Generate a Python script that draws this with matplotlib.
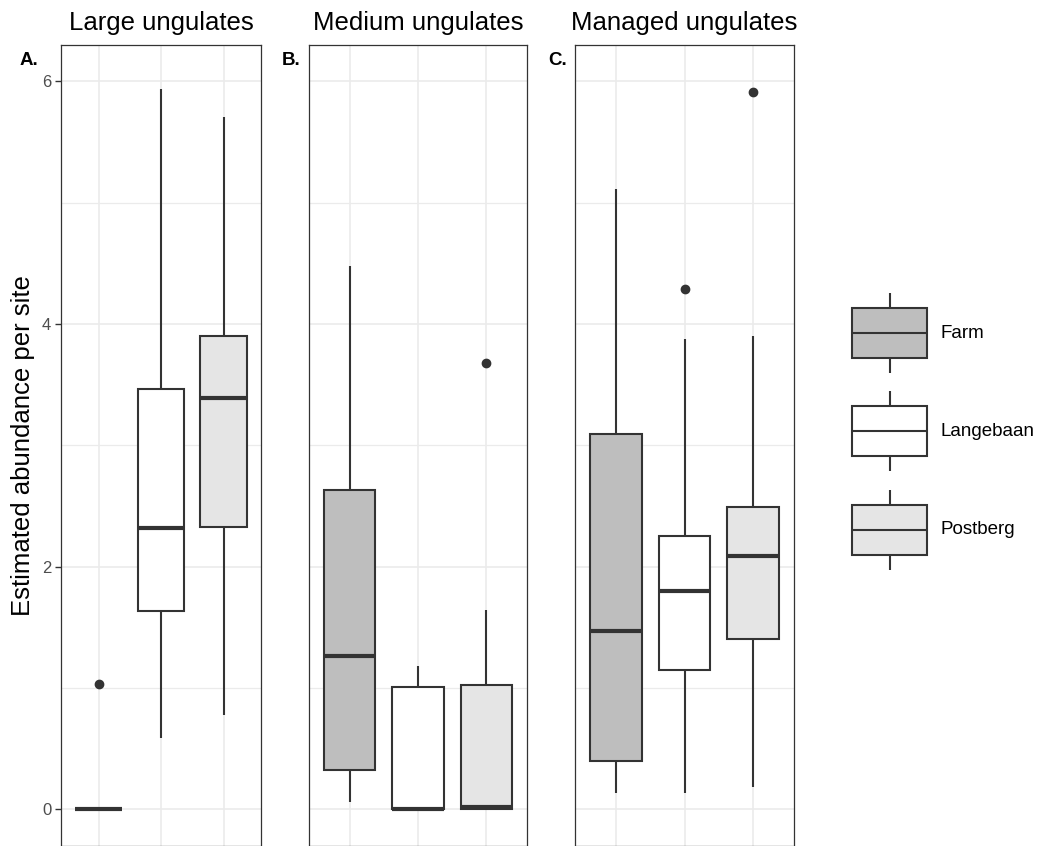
import matplotlib
matplotlib.use("Agg")
import matplotlib.pyplot as plt
from matplotlib.patches import Rectangle

plt.rcParams['font.family'] = ['Liberation Sans', 'DejaVu Sans']

# ---------------- data ----------------
categories = ['Farm', 'Langebaan', 'Postberg']
panel_titles = ['Large ungulates', 'Medium ungulates', 'Managed ungulates']
panel_letters = ['A.', 'B.', 'C.']
fill_colors = ['#BEBEBE', '#FFFFFF', '#E5E5E5']

large_q1 = [0.0, 1.63, 2.33]
large_med = [0.0, 2.32, 3.39]
large_q3 = [0.0, 3.46, 3.90]
large_whislo = [0.0, 0.585, 0.78]
large_whishi = [0.0, 5.94, 5.71]
large_fliers = [[1.03], [], []]

medium_q1 = [0.32, 0.0, 0.0]
medium_med = [1.26, 0.0, 0.02]
medium_q3 = [2.63, 1.01, 1.02]
medium_whislo = [0.06, 0.0, 0.0]
medium_whishi = [4.48, 1.18, 1.64]
medium_fliers = [[], [], [3.68]]

managed_q1 = [0.40, 1.15, 1.40]
managed_med = [1.47, 1.80, 2.09]
managed_q3 = [3.09, 2.25, 2.49]
managed_whislo = [0.13, 0.13, 0.18]
managed_whishi = [5.11, 3.88, 3.90]
managed_fliers = [[], [4.29], [5.91]]

y_major = [0, 2, 4, 6]
y_minor = [1, 3, 5]
y_label = 'Estimated abundance per site'

panels_data = [
    (large_q1, large_med, large_q3, large_whislo, large_whishi, large_fliers),
    (medium_q1, medium_med, medium_q3, medium_whislo, medium_whishi, medium_fliers),
    (managed_q1, managed_med, managed_q3, managed_whislo, managed_whishi, managed_fliers),
]

# ---------------- layout ----------------
W, H = 1050, 846
fig = plt.figure(figsize=(W / 100, H / 100), dpi=100)
fig.patch.set_facecolor('white')


def px_axes(x0, y0, x1, y1):
    return fig.add_axes([x0 / W, 1 - y1 / H, (x1 - x0) / W, (y1 - y0) / H])


panel_px = [(61, 45, 261, 845.5), (309, 45, 527, 845.5), (575, 45, 794, 845.5)]
letter_x = [20, 282, 548]

line_col = '#333333'
grid_col = '#EBEBEB'
box_lw = 1.5

for i, (q1, med, q3, wlo, whi, fl) in enumerate(panels_data):
    x0, y0, x1, y1 = panel_px[i]
    ax = px_axes(x0, y0, x1, y1)
    stats = []
    for j, cat in enumerate(categories):
        stats.append(dict(label=cat, med=med[j], q1=q1[j], q3=q3[j],
                          whislo=wlo[j], whishi=whi[j], fliers=fl[j]))
    bp = ax.bxp(stats, positions=[1, 2, 3], widths=0.75, patch_artist=True,
                showcaps=False,
                boxprops=dict(edgecolor=line_col, linewidth=box_lw),
                medianprops=dict(color=line_col, linewidth=3.0, solid_capstyle='butt'),
                whiskerprops=dict(color=line_col, linewidth=box_lw, solid_capstyle='butt'),
                flierprops=dict(marker='o', markerfacecolor=line_col,
                                markeredgecolor=line_col, markersize=6))
    for patch, c in zip(bp['boxes'], fill_colors):
        patch.set_facecolor(c)
    ax.set_xlim(0.4, 3.6)
    ax.set_ylim(-0.3, 6.3)
    ax.set_xticks([1, 2, 3])
    ax.set_xticklabels([])
    ax.set_yticks(y_major)
    ax.set_yticks(y_minor, minor=True)
    ax.set_axisbelow(True)
    ax.grid(which='major', color=grid_col, linewidth=1.2)
    ax.grid(which='minor', axis='y', color=grid_col, linewidth=0.9)
    ax.tick_params(axis='x', length=0)
    ax.tick_params(axis='y', which='minor', length=0)
    if i == 0:
        ax.tick_params(axis='y', which='major', length=4, width=1.0, color=line_col,
                       labelcolor='#4D4D4D', labelsize=12, pad=3)
    else:
        ax.tick_params(axis='y', which='major', length=0, labelleft=False)
    for s in ax.spines.values():
        s.set_color(line_col)
        s.set_linewidth(0.9)
    cx = (x0 + x1) / 2
    fig.text(cx / W, 1 - 30 / H, panel_titles[i], ha='center', va='baseline',
             fontsize=18.5, color='black')
    fig.text(letter_x[i] / W, 1 - 65 / H, panel_letters[i], ha='left', va='baseline',
             fontsize=13.5, fontweight='bold',
             family=['Liberation Sans Narrow', 'Liberation Sans', 'DejaVu Sans'])

fig.text(23 / W, 1 - 446 / H, y_label, rotation=90, ha='center', va='center',
         fontsize=18.5, color='black')

# ---------------- legend ----------------
lax = fig.add_axes([0, 0, 1, 1])
lax.set_xlim(0, W)
lax.set_ylim(H, 0)
lax.axis('off')
key_centers = [333, 431.5, 530]
key_x0, key_x1 = 852, 927
box_h = 50
whisk = 15
for cat, c, yc in zip(categories, fill_colors, key_centers):
    lax.add_patch(Rectangle((key_x0, yc - box_h / 2), key_x1 - key_x0, box_h,
                            facecolor=c, edgecolor=line_col, linewidth=box_lw))
    lax.plot([key_x0, key_x1], [yc, yc], color=line_col, linewidth=box_lw,
             solid_capstyle='butt')
    xm = (key_x0 + key_x1) / 2
    lax.plot([xm, xm], [yc - box_h / 2 - whisk, yc - box_h / 2], color=line_col,
             linewidth=box_lw, solid_capstyle='butt')
    lax.plot([xm, xm], [yc + box_h / 2, yc + box_h / 2 + whisk], color=line_col,
             linewidth=box_lw, solid_capstyle='butt')
    lax.text(940, yc, cat, ha='left', va='center', fontsize=13.5, color='black')

fig.savefig('out.png', dpi=100, facecolor='white')
